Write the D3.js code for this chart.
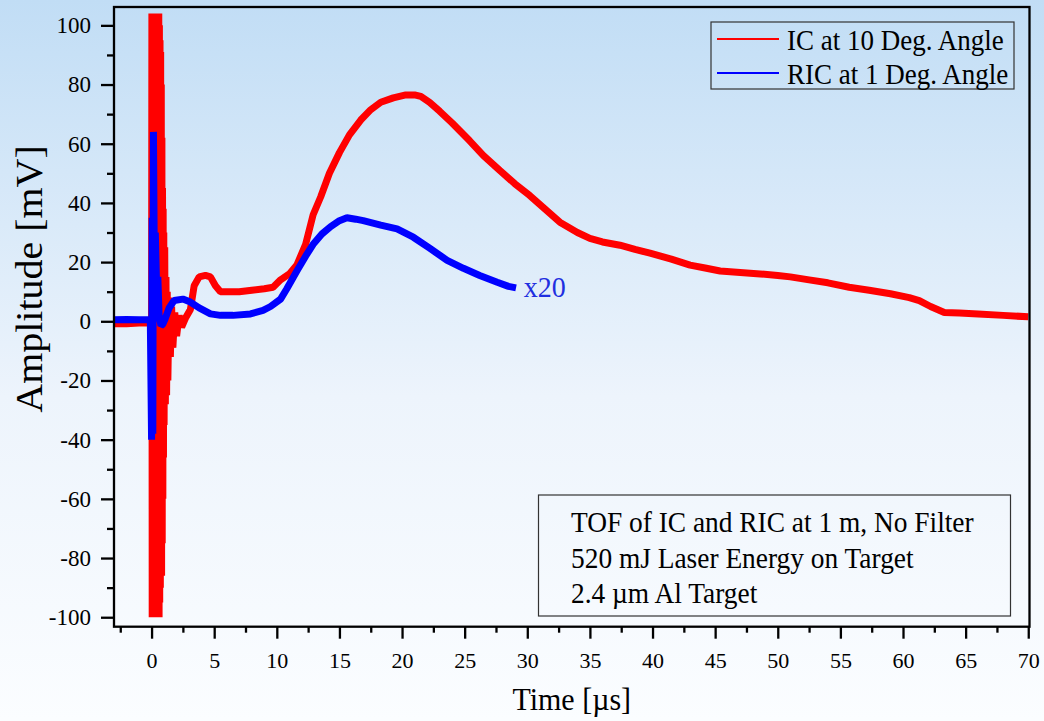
<!DOCTYPE html>
<html>
<head>
<meta charset="utf-8">
<script src="https://cdn.jsdelivr.net/npm/d3@7"></script>
<style>
  html, body { margin: 0; padding: 0; }
  svg { display: block; }
  text { font-family: "Liberation Serif", "Times New Roman", serif; fill: #000; }
</style>
</head>
<body>
<svg id="chart" width="1044" height="721"></svg>
<script>
// ---------- data ----------
const xTickValues = [0, 5, 10, 15, 20, 25, 30, 35, 40, 45, 50, 55, 60, 65, 70];
const yTickValues = [-100, -80, -60, -40, -20, 0, 20, 40, 60, 80, 100];

// IC at 10 Deg. Angle : [time µs, amplitude mV]
const icTime = [-3, -2, -1, -0.1, 0,
  0.025, 0.05, 0.075, 0.1, 0.125, 0.15, 0.175, 0.2, 0.225, 0.25, 0.275, 0.3, 0.325, 0.35, 0.375, 0.4,
  0.425, 0.45, 0.475, 0.5, 0.525, 0.55, 0.575, 0.6, 0.625, 0.65, 0.675, 0.7, 0.725, 0.75, 0.775, 0.8,
  0.825, 0.85, 0.875, 0.9, 0.925, 0.95, 0.975, 1.0, 1.05, 1.1, 1.15, 1.2, 1.25, 1.3, 1.4, 1.5, 1.6, 1.7,
  1.85, 2.0, 2.2, 2.4, 2.7, 3.1, 3.4, 3.8, 4.3, 4.7, 5.1, 5.5, 6, 7, 8, 9, 9.7, 10.3, 11, 11.6, 12.3,
  12.9, 13.5, 14.2, 15, 15.8, 16.7, 17.5, 18.3, 19.3, 20.3, 21.0, 21.5, 22.2, 23, 24, 25.4, 26.5, 27.8,
  29, 30.2, 31.4, 32.6, 34, 35, 36, 37.4, 38.6, 39.8, 41.5, 43, 44.2, 45.4, 47, 48.6, 50, 51, 52.5, 54,
  55.7, 57.3, 59, 60.5, 61.3, 62.2, 63.3, 64.5, 66, 68, 70];
const icAmp = [-0.8, -0.8, -0.6, -0.5, 0,
  104, -100, 104, -100, 104, -100, 104, -100, 104, -100, 104, -100, 104, -100, 104, -100,
  104, -100, 104, -100, 104, -100, 104, -100, 100, -95, 95, -90, 91, -86, 80, -86,
  62, -75, 45, -60, 38, -46, 30, -35, 25, -28, 15, -25, 10, -20, 8, -12, 5, -9,
  3, -5, 2, -2, 1, 4, 12, 15, 15.5, 15, 12, 10, 10, 10, 10.5, 11, 11.5, 14, 16, 19, 26,
  36, 42, 50, 57, 63, 68, 71.5, 74, 75.5, 76.5, 76.5, 76, 74, 71, 67, 61, 56, 51,
  46.5, 42.5, 38, 33.5, 30, 28, 26.8, 25.7, 24.3, 23, 21, 19, 18, 17, 16.5, 16, 15.5, 15, 14, 13,
  11.5, 10.5, 9.3, 8, 7, 5, 3, 2.8, 2.5, 2, 1.5];

// RIC at 1 Deg. Angle (x20) : [time µs, amplitude mV]
const ricTime = [-3, -2, -1, -0.1, 0, 0.05, 0.1, 0.15, 0.22, 0.3, 0.4, 0.5, 0.6, 0.75, 0.9, 1.1, 1.4, 1.8, 2.5, 3.1, 3.8, 4.7, 5.5, 6.5, 7.9, 8.9, 9.5, 10.3, 10.8, 11.6, 12.3, 12.9, 13.6, 14.3, 15, 15.6, 16.3, 16.9, 18.3, 19.6, 20.9, 22.2, 23.6, 24.9, 26.2, 27.6, 28.5, 29.1];
const ricAmp  = [0.5, 0.6, 0.5, 0.5, -40, 35, -38, 64, 20, 30, 12, 15, 2, -1.5, -1, 1, 4.5, 7, 7.5, 6.5, 4.5, 2.5, 2, 2, 2.5, 3.7, 5, 7.5, 11, 17, 22, 26, 29.5, 32, 34, 35, 34.5, 34, 32.5, 31.2, 28.4, 24.7, 20.6, 17.9, 15.5, 13.2, 11.8, 11.3];

const seriesNames = ["IC at 10 Deg. Angle", "RIC at 1 Deg. Angle"];
const infoLines = ["TOF of IC and RIC at 1 m, No Filter", "520 mJ Laser Energy on Target", "2.4 µm Al Target"];
const scaleNote = "x20";

// ---------- layout ----------
const W = 1044, H = 721;
const L = 114, R = 1029.5, T = 7, B = 626.7;
const SY = 1.08; // vertical stretch of lettering seen in the picture
const svg = d3.select("#chart");

const defs = svg.append("defs");
const grad = defs.append("linearGradient").attr("id", "bg").attr("x1", 0).attr("y1", 0).attr("x2", 0).attr("y2", 1);
grad.append("stop").attr("offset", "0%").attr("stop-color", "#c1ddf5");
grad.append("stop").attr("offset", "55%").attr("stop-color", "#edf4fc");
grad.append("stop").attr("offset", "100%").attr("stop-color", "#fbfdff");
svg.append("rect").attr("width", W).attr("height", H).attr("fill", "url(#bg)");

const x = d3.scaleLinear().domain([-3, 70.1]).range([L, R]);
const y = d3.scaleLinear().domain([-103.2, 106.2]).range([B, T]);

const clip = defs.append("clipPath").attr("id", "plotclip");
clip.append("rect").attr("x", L).attr("y", T).attr("width", R - L).attr("height", B - T);

const line = d3.line().x(d => x(d[0])).y(d => y(d[1]));
const icData = icTime.map((t, i) => [t, icAmp[i]]);
const ricData = ricTime.map((t, i) => [t, ricAmp[i]]);

const plot = svg.append("g").attr("clip-path", "url(#plotclip)");
plot.append("path").datum(icData).attr("d", line)
  .attr("fill", "none").attr("stroke", "#ff0000").attr("stroke-width", 7).attr("stroke-linejoin", "bevel");
plot.append("path").datum(ricData).attr("d", line)
  .attr("fill", "none").attr("stroke", "#0000ff").attr("stroke-width", 7).attr("stroke-linejoin", "bevel");

function stretchedText(px, py, str, size, anchor) {
  return svg.append("text")
    .attr("transform", `translate(${px},${py}) scale(1,${SY})`)
    .attr("text-anchor", anchor || "start")
    .attr("font-size", size).text(str);
}

// x20 note
stretchedText(x(29.07) + 8, 297.3, scaleNote, 28).style("fill", "#1f2fe0");

// ---------- axes ----------
const xMinor = d3.range(-2.5, 70.01, 2.5).filter(v => !xTickValues.includes(v));
const yMinor = d3.range(-90, 100, 20);

const gx = svg.append("g").attr("transform", `translate(0,${B})`);
gx.call(d3.axisBottom(x).tickValues(xTickValues).tickSize(12).tickFormat(d => String(d)));
gx.select(".domain").remove();
gx.selectAll(".tick line").attr("stroke", "#000").attr("stroke-width", 2.3);
gx.selectAll(".tick text").attr("y", 41).attr("dy", 0).attr("font-size", 22)
  .attr("font-family", "Liberation Serif").style("fill", "#000");
const gxm = svg.append("g").attr("transform", `translate(0,${B})`);
gxm.call(d3.axisBottom(x).tickValues(xMinor).tickSize(6).tickFormat(""));
gxm.select(".domain").remove();
gxm.selectAll(".tick line").attr("stroke", "#000").attr("stroke-width", 2.3);

const gy = svg.append("g").attr("transform", `translate(${L},0)`);
gy.call(d3.axisLeft(y).tickValues(yTickValues).tickSize(13).tickPadding(10).tickFormat(d => String(d)));
gy.select(".domain").remove();
gy.selectAll(".tick line").attr("stroke", "#000").attr("stroke-width", 2.3);
gy.selectAll(".tick text").attr("font-size", 23).attr("font-family", "Liberation Serif").style("fill", "#000");
const gym = svg.append("g").attr("transform", `translate(${L},0)`);
gym.call(d3.axisLeft(y).tickValues(yMinor).tickSize(7).tickFormat(""));
gym.select(".domain").remove();
gym.selectAll(".tick line").attr("stroke", "#000").attr("stroke-width", 2.3);

// frame
svg.append("rect").attr("x", L).attr("y", T).attr("width", R - L).attr("height", B - T)
  .attr("fill", "none").attr("stroke", "#000").attr("stroke-width", 2.3);

// axis titles
stretchedText((L + R) / 2, 710, "Time [µs]", 30, "middle");
svg.append("text").attr("transform", `translate(42,279) rotate(-90) scale(${SY},1)`).attr("text-anchor", "middle")
  .attr("font-size", 37).text("Amplitude [mV]");

// ---------- legend ----------
svg.append("rect").attr("x", 711).attr("y", 22).attr("width", 303).attr("height", 67)
  .attr("fill", "none").attr("stroke", "#333").attr("stroke-width", 1.2);
const legColors = ["#ff0000", "#0000ff"];
seriesNames.forEach((name, i) => {
  const ly = 39 + i * 34;
  svg.append("line").attr("x1", 717).attr("x2", 779).attr("y1", ly).attr("y2", ly)
    .attr("stroke", legColors[i]).attr("stroke-width", 2);
  stretchedText(787, ly + 10.5, name, 27);
});

// ---------- info box ----------
svg.append("rect").attr("x", 538.5).attr("y", 495).attr("width", 472).attr("height", 121)
  .attr("fill", "none").attr("stroke", "#333").attr("stroke-width", 1.2);
infoLines.forEach((s, i) => {
  stretchedText(571, 532 + i * 35.5, s, 27.4);
});
</script>
</body>
</html>
